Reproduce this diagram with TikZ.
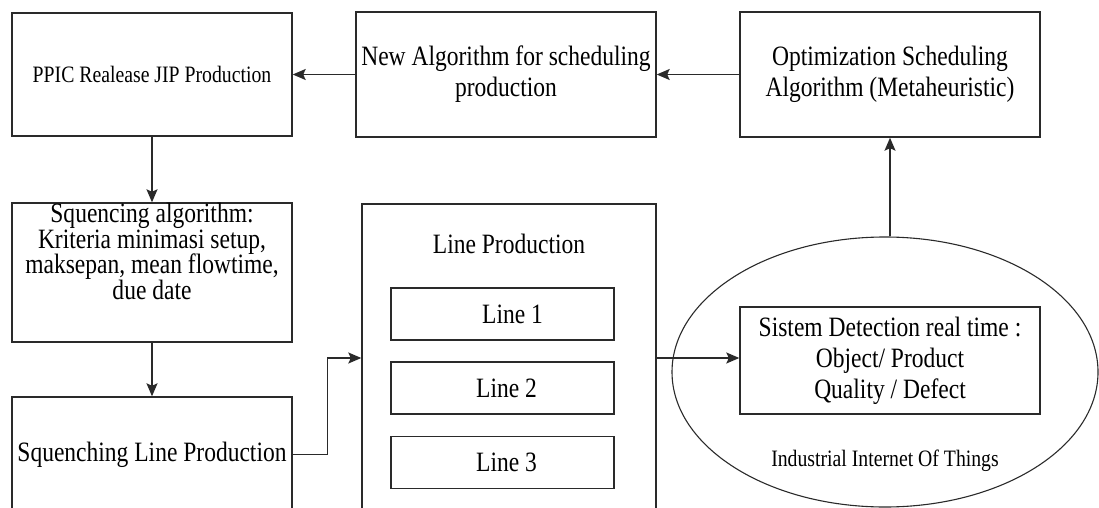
\documentclass[tikz,border=0pt]{standalone}
\usepackage{fontspec}
\setmainfont{Liberation Serif}[FakeStretch=0.84]
\usetikzlibrary{arrows.meta,shapes.geometric}
\definecolor{ln}{HTML}{2A2A2A}
\newcommand\myseqfont{\fontsize{28}{25.4}\selectfont\lineskiplimit=-20pt\relax}
\tikzset{
  bigfont/.style={font=\fontsize{28}{31}\selectfont},
  smallfont/.style={font=\fontsize{23.5}{27}\selectfont},
  bx/.style={draw=ln, line width=1.4pt, inner sep=0pt, align=center, bigfont, text=black},
  arr/.style={draw=ln, line width=1.4pt, -{Stealth[length=13pt,width=11pt,inset=2.5pt]}},
}
\begin{document}
\begin{tikzpicture}[x=1pt,y=-1pt]
\path[use as bounding box, clip] (0,0) rectangle (1099,508);
% top row
\node[bx, smallfont, minimum width=280pt, minimum height=123pt] (ppic) at (152,74.5) {PPIC Realease JIP Production};
\node[bx, minimum width=300pt, minimum height=125pt] (nalg) at (506,74.5) {New Algorithm for scheduling\\production};
\node[bx, minimum width=300pt, minimum height=125pt] (opt) at (890,74.5) {Optimization Scheduling\\Algorithm (Metaheuristic)};
% left column
\node[bx, minimum width=280pt, minimum height=139pt,
  label={[anchor=north, yshift=-1pt, inner sep=0pt, align=center, text=black,
          font=\myseqfont]north:{Squencing algorithm:\\Kriteria minimasi setup,\\maksepan, mean flowtime,\\due date}}] (seq) at (152,272.5) {};
\node[bx, minimum width=280pt, minimum height=115pt] (sqln) at (152,454.5) {Squenching Line Production};
% line production
\node[bx, minimum width=294pt, minimum height=308pt,
  label={[anchor=north, yshift=-31pt, inner sep=0pt, text=black, bigfont]north:Line Production}] (lp) at (509,358) {};
\node[bx, minimum width=223pt, minimum height=52pt] (l1) at (502.5,314) {\hspace{20pt}Line 1};
\node[bx, minimum width=223pt, minimum height=52pt] (l2) at (502.5,388) {\hspace{8pt}Line 2};
\node[bx, minimum width=223pt, minimum height=52pt] (l3) at (502.5,462.5) {\hspace{8pt}Line 3};
% IIoT
\node[draw=ln, line width=1.1pt, ellipse, minimum width=426pt, minimum height=270pt, inner sep=0pt] (ell) at (885,372) {};
\node[smallfont, text=black, inner sep=0pt] (iiot) at (885,461) {Industrial Internet Of Things};
\node[bx, minimum width=300pt, minimum height=107pt] (sis) at (890,360.5) {Sistem Detection real time :\\Object/ Product\\Quality / Defect};
% connectors
\draw[arr] (nalg.west) -- (ppic.east);
\draw[arr] (opt.west) -- (nalg.east);
\draw[arr] (ell.north -| opt.south) -- (opt.south);
\draw[arr] (ppic.south) -- (seq.north);
\draw[arr] (seq.south) -- (sqln.north);
\draw[arr] (sqln.east) -- ++(35,0) |- (lp.west);
\draw[arr] (lp.east) -- (lp.east -| sis.west);
\end{tikzpicture}
\end{document}
